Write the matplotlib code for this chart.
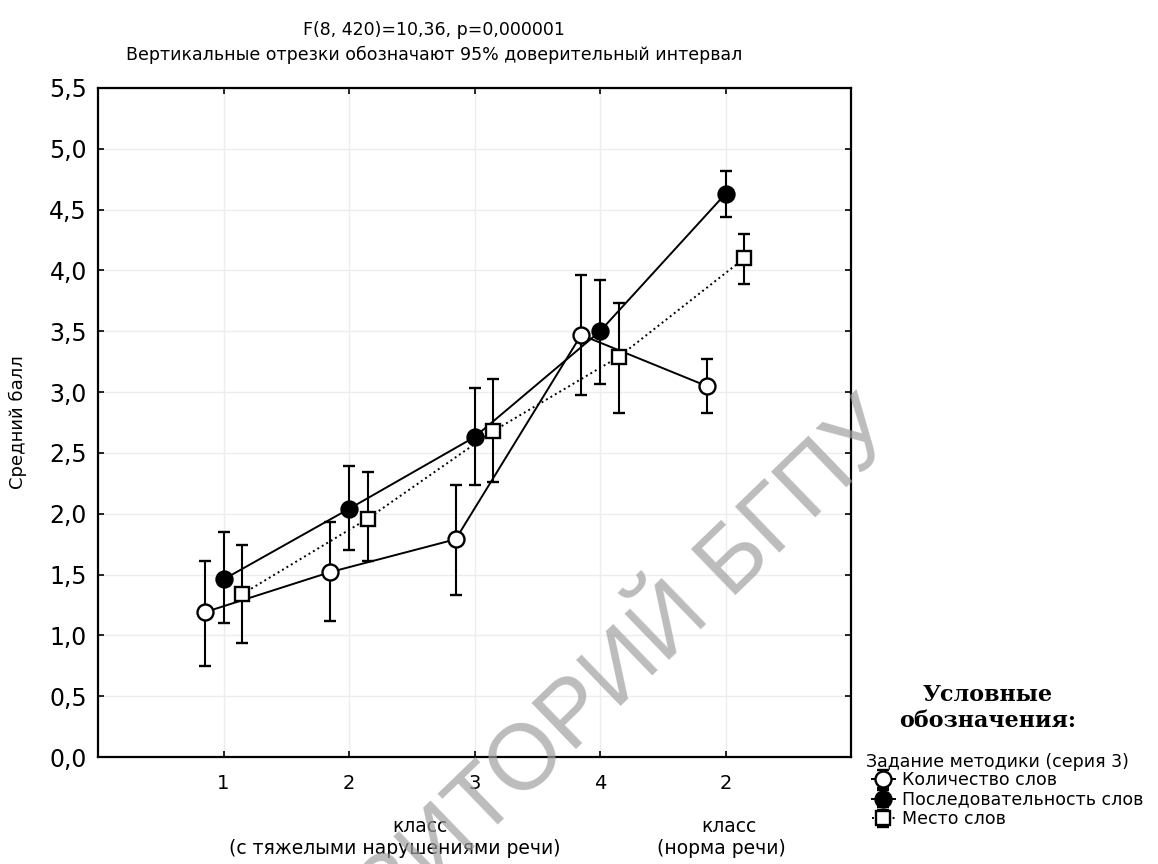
import numpy as np
import matplotlib.pyplot as plt

plt.rcParams['font.family'] = ['DejaVu Sans']

# class groups on the x axis
classes = ["1", "2", "3", "4", "2"]

# task series: means and 95% CI bounds
kol_mean = [1.19, 1.52, 1.79, 3.47, 3.05]
kol_lo = [0.75, 1.12, 1.33, 2.98, 2.83]
kol_hi = [1.61, 1.93, 2.24, 3.96, 3.27]

posl_mean = [1.46, 2.04, 2.63, 3.50, 4.63]
posl_lo = [1.10, 1.70, 2.24, 3.07, 4.44]
posl_hi = [1.85, 2.39, 3.03, 3.92, 4.82]

mesto_mean = [1.34, 1.96, 2.68, 3.29, 4.10]
mesto_lo = [0.94, 1.61, 2.26, 2.83, 3.89]
mesto_hi = [1.74, 2.34, 3.11, 3.73, 4.30]

labels = ["Количество слов", "Последовательность слов", "Место слов"]
yticks = [0.0, 0.5, 1.0, 1.5, 2.0, 2.5, 3.0, 3.5, 4.0, 4.5, 5.0, 5.5]


def main():
    fig = plt.figure(figsize=(11.58, 8.64), dpi=100)
    ax = fig.add_axes([98 / 1158, 1 - 757 / 864, (851 - 98) / 1158, (757 - 88) / 864])

    x = np.arange(1, len(classes) + 1)
    series = [
        (kol_mean, kol_lo, kol_hi, -0.15, "o", "-", "white"),
        (posl_mean, posl_lo, posl_hi, 0.0, "o", "-", "black"),
        (mesto_mean, mesto_lo, mesto_hi, 0.15, "s", ":", "white"),
    ]
    handles = []
    for (m, lo, hi, off, mk, ls, fc), lab in zip(series, labels):
        m = np.array(m)
        err = [m - np.array(lo), np.array(hi) - m]
        h = ax.errorbar(x + off, m, yerr=err, marker=mk, ls=ls, color="black",
                        mfc=fc, mec="black", ms=11.5 if mk == "o" else 10.5, mew=1.7,
                        lw=1.4, elinewidth=1.5, capsize=4, capthick=1.5,
                        label=lab, zorder=3)
        handles.append(h)

    ax.set_xlim(0, 6)
    ax.set_ylim(0, 5.5)
    ax.set_xticks(x)
    ax.set_xticklabels(classes, fontsize=14)
    ax.set_yticks(yticks)
    ax.set_yticklabels([f"{v:.1f}".replace(".", ",") for v in yticks], fontsize=17)
    ax.tick_params(direction="in", top=True, right=True, length=4, width=1.2)
    ax.tick_params(axis="x", pad=12)
    ax.tick_params(axis="y", pad=8)
    ax.grid(color="#ededed", lw=1, zorder=0)
    for s in ax.spines.values():
        s.set_linewidth(1.6)

    fig.text(434 / 1158, 1 - 30 / 864, "F(8, 420)=10,36, p=0,000001",
             ha="center", va="center", fontsize=12.5)
    fig.text(434 / 1158, 1 - 55 / 864,
             "Вертикальные отрезки обозначают 95% доверительный интервал",
             ha="center", va="center", fontsize=12.5)
    fig.text(18 / 1158, 1 - 422 / 864, "Средний балл", rotation=90,
             ha="center", va="center", fontsize=13)

    # group captions under the x axis
    fig.text(420 / 1158, 1 - 826 / 864, "класс", ha="center", va="center", fontsize=13.5)
    fig.text(395 / 1158, 1 - 848 / 864, "(с тяжелыми нарушениями речи)",
             ha="center", va="center", fontsize=13.5)
    fig.text(729 / 1158, 1 - 826 / 864, "класс", ha="center", va="center", fontsize=13.5)
    fig.text(721 / 1158, 1 - 848 / 864, "(норма речи)",
             ha="center", va="center", fontsize=13.5)

    fig.text(988 / 1158, 1 - 708 / 864, "Условные\nобозначения:",
             ha="center", va="center", fontsize=16, fontweight="bold",
             family="DejaVu Serif", linespacing=1.2)
    fig.text(866 / 1158, 1 - 762 / 864, "Задание методики (серия 3)",
             ha="left", va="center", fontsize=12.5)
    fig.legend(handles, labels, loc="upper left",
               bbox_to_anchor=(872 / 1158, 1 - 771 / 864), frameon=False,
               fontsize=12.5, handlelength=1.3, handletextpad=0.4,
               labelspacing=0.1, borderpad=0, borderaxespad=0)

    # repository watermark
    fig.text(885 / 1158, 1 - 418 / 864, "РЕПОЗИТОРИЙ БГПУ", rotation=44,
             ha="right", va="center", fontsize=67, color="#a0a0a0",
             family="Liberation Sans", alpha=0.7, rotation_mode="anchor",
             zorder=10)

    fig.savefig("out.png", dpi=100)
    plt.close(fig)


if __name__ == "__main__":
    main()
